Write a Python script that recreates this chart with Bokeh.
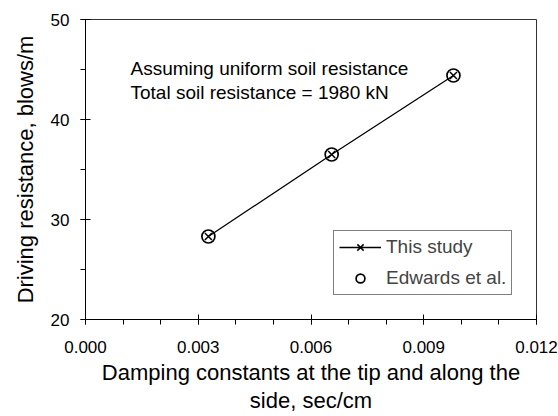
from bokeh.plotting import figure
from bokeh.models import (Range1d, SingleIntervalTicker, NumeralTickFormatter,
                          Legend, LegendItem, Label)
from bokeh.embed import file_html
from bokeh.resources import INLINE

# data
damping = [0.00327, 0.00655, 0.00979]
this_study = [28.3, 36.5, 44.4]
edwards = [28.3, 36.5, 44.4]
x_ticks = [0.000, 0.003, 0.006, 0.009, 0.012]
y_ticks = [20, 30, 40, 50]
note_lines = ["Assuming uniform soil resistance", "Total soil resistance = 1980 kN"]

FONT = "Liberation Sans"

p = figure(width=558, height=416, output_backend="svg", toolbar_location=None,
           x_range=Range1d(0.0, 0.012), y_range=Range1d(20, 50),
           min_border_left=85, min_border_right=22, min_border_top=19,
           min_border_bottom=96)
p.grid.visible = False
p.outline_line_color = "#333333"
p.outline_line_width = 1
p.background_fill_color = "white"
p.border_fill_color = "white"

p.xaxis.ticker = SingleIntervalTicker(interval=0.003, num_minor_ticks=3)
p.yaxis.ticker = SingleIntervalTicker(interval=10, num_minor_ticks=2)
p.xaxis.formatter = NumeralTickFormatter(format="0.000")
for ax in (p.xaxis, p.yaxis):
    ax.axis_line_color = "black"
    ax.major_tick_line_color = "black"
    ax.minor_tick_line_color = "black"
    ax.major_tick_in = 5
    ax.major_tick_out = 5
    ax.minor_tick_in = 0
    ax.minor_tick_out = 5
    ax.major_label_text_font = FONT
    ax.major_label_text_font_size = "17px"
    ax.major_label_text_color = "black"
    ax.axis_label_text_font = FONT
    ax.axis_label_text_font_size = "22px"
    ax.axis_label_text_font_style = "normal"
    ax.axis_label_text_color = "black"

p.xaxis.major_label_standoff = 16
p.yaxis.major_label_standoff = 11
p.xaxis.axis_label = "Damping constants at the tip and along the\nside, sec/cm"
p.xaxis.axis_label_standoff = 4
p.xaxis.axis_label_text_line_height = 1.15
p.yaxis.axis_label = "Driving resistance, blows/m"
p.yaxis.axis_label_standoff = 10

r_line = p.line(damping, this_study, line_color="black", line_width=1.3)
r_x = p.scatter(damping, this_study, marker="x", size=10, line_color="black", line_width=1.5)
r_c = p.scatter(damping, edwards, marker="circle", size=13, line_color="black",
                fill_color=None, line_width=1.7)

for i, t in enumerate(note_lines):
    p.add_layout(Label(x=45, y=251 - 24 * i, x_units="screen", y_units="screen",
                       text=t, text_font=FONT, text_font_size="19px", text_color="black",
                       text_baseline="middle"))

legend = Legend(items=[LegendItem(label="This study", renderers=[r_line, r_x]),
                       LegendItem(label="Edwards et al.", renderers=[r_c])],
                location=(248, 24), border_line_color="black", border_line_width=1,
                label_text_font=FONT, label_text_font_size="19px",
                glyph_width=42, glyph_height=22, label_height=22, label_standoff=5,
                spacing=9, padding=5, margin=0,
                background_fill_alpha=1)
p.add_layout(legend)

open("out.html", "w").write(file_html(p, INLINE))
